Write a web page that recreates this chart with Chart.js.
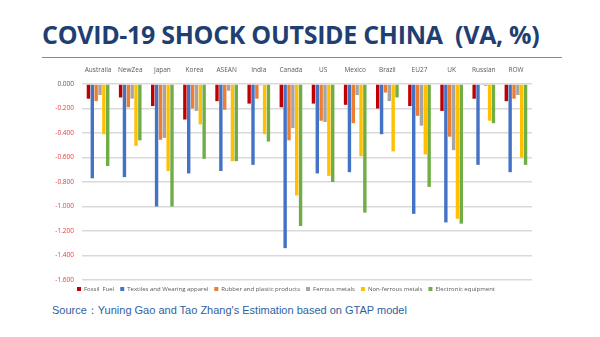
<!DOCTYPE html>
<html>
<head>
<meta charset="utf-8">
<script src="https://cdn.jsdelivr.net/npm/chart.js@4"></script>
<style>
  html, body { margin: 0; padding: 0; background: #fff; }
  #page { position: relative; width: 600px; height: 337px; overflow: hidden; background: #fff; }
  #title { position: absolute; left: 42px; top: 17px; font-family: "Open Sans", sans-serif; font-weight: 700;
    font-size: 25px; color: #1f3f73; white-space: nowrap; letter-spacing: -0.3px; }
  #rule { position: absolute; left: 42px; top: 57px; width: 520px; height: 1px; background: #3aa8b8; }
  #chartBox { position: absolute; left: 40px; top: 64px; width: 500px; height: 238px; }
  #source { position: absolute; left: 52px; top: 303px; font-family: "Liberation Sans", Arial, sans-serif;
    font-size: 11px; color: #2f5fa0; white-space: nowrap; }
</style>
</head>
<body>
<div id="page">
  <div id="title">COVID-19 SHOCK OUTSIDE CHINA&nbsp;&nbsp;(VA, %)</div>
  <div id="rule"></div>
  <div id="chartBox"><canvas id="chart"></canvas></div>
  <div id="source">Source：Yuning Gao and Tao Zhang's Estimation based on GTAP model</div>
</div>
<script>
// values (% change in value added)
const regions = ["Australia", "NewZea", "Japan", "Korea", "ASEAN", "India", "Canada", "US", "Mexico", "Brazil", "EU27", "UK", "Russian", "ROW"];
const fossilFuel   = [-0.12, -0.11, -0.18, -0.29, -0.14, -0.16, -0.19, -0.16, -0.17, -0.20, -0.18, -0.22, -0.12, -0.14];
const textiles     = [-0.77, -0.76, -1.00, -0.73, -0.71, -0.66, -1.34, -0.73, -0.72, -0.41, -1.06, -1.13, -0.66, -0.72];
const rubber       = [-0.14, -0.19, -0.455, -0.20, -0.21, -0.12, -0.46, -0.30, -0.32, -0.07, -0.26, -0.43, -0.005, -0.12];
const ferrous      = [-0.09, -0.12, -0.44, -0.22, -0.055, -0.01, -0.36, -0.31, -0.09, -0.14, -0.34, -0.54, -0.015, -0.09];
const nonFerrous   = [-0.41, -0.505, -0.71, -0.33, -0.63, -0.41, -0.91, -0.75, -0.59, -0.55, -0.575, -1.10, -0.30, -0.60];
const electronic   = [-0.67, -0.46, -1.00, -0.61, -0.63, -0.47, -1.16, -0.80, -1.05, -0.11, -0.84, -1.14, -0.32, -0.66];

const seriesNames  = ["Fossil  Fuel", "Textiles and Wearing apparel", "Rubber and plastic products", "Ferrous metals", "Non-ferrous metals", "Electronic equipment"];
const seriesColors = ["#c00000", "#4472c4", "#ed7d31", "#a5a5a5", "#ffc000", "#70ad47"];
const seriesData   = [fossilFuel, textiles, rubber, ferrous, nonFerrous, electronic];

const yMin = -1.6, yMax = 0, yStep = 0.2;

new Chart(document.getElementById("chart"), {
  type: "bar",
  data: {
    labels: regions,
    datasets: seriesData.map((d, i) => ({
      label: seriesNames[i], data: d, backgroundColor: seriesColors[i],
      categoryPercentage: 0.72, barPercentage: 0.88
    }))
  },
  options: {
    responsive: true, maintainAspectRatio: false, animation: false,
    layout: { padding: { left: 0, right: 8, top: 0, bottom: 0 } },
    plugins: {
      legend: {
        position: "bottom",
        labels: { boxWidth: 4, boxHeight: 4, padding: 6, color: "#595959",
          font: { family: "Open Sans", size: 6 } }
      },
      tooltip: { enabled: false }
    },
    scales: {
      x: {
        position: "top",
        grid: { display: false },
        border: { display: false },
        ticks: { color: "#595959", font: { family: "Open Sans", size: 6.5 }, maxRotation: 0, padding: 2 },
        afterFit: s => { s.height = 20; }
      },
      y: {
        min: yMin, max: yMax,
        grid: { color: "#d9d9d9", lineWidth: 1.5, drawTicks: false },
        border: { display: false },
        ticks: {
          stepSize: yStep, padding: 8,
          font: { family: "Open Sans", size: 6.5 },
          color: c => (c.tick && c.tick.value < -1e-9 ? "#e8403c" : "#595959"),
          callback: v => v.toFixed(3)
        },
        afterFit: s => { s.width = 42; }
      }
    }
  }
});
</script>
</body>
</html>
